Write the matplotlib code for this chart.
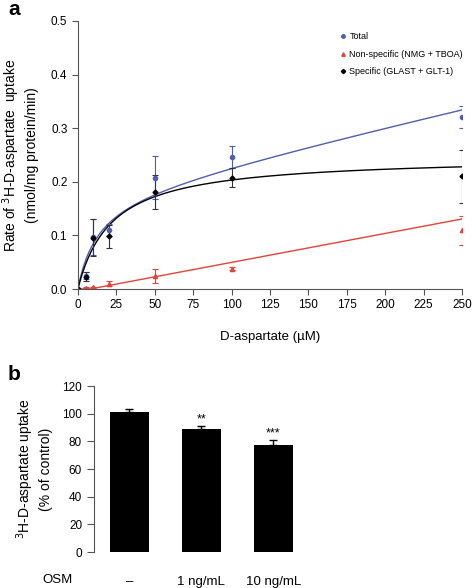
import numpy as np
import matplotlib.pyplot as plt
from matplotlib.lines import Line2D

plt.rcParams['font.family'] = ['Liberation Sans', 'DejaVu Sans']

# --- panel a: uptake kinetics ---
conc = [0, 5, 10, 20, 50, 100, 250]
total = [0, 0.025, 0.097, 0.110, 0.208, 0.246, 0.321]
total_err = [0, 0.006, 0.033, 0.012, 0.040, 0.020, 0.021]
nonspec = [0, 0.002, 0.003, 0.010, 0.024, 0.038, 0.110]
nonspec_err = [0, 0.001, 0.001, 0.004, 0.013, 0.003, 0.027]
specific = [0, 0.023, 0.096, 0.098, 0.181, 0.208, 0.210]
specific_err = [0, 0.008, 0.035, 0.021, 0.031, 0.017, 0.049]

# fitted curves (Michaelis-Menten, + linear part for total)
spec_vmax, spec_km = 0.248, 22.0
tot_vmax, tot_km, tot_slope = 0.180, 13.0, 0.000652
ns_slope, ns_x0 = 0.00054, 8.0

# --- panel b: OSM effect ---
osm_labels = ['\u2013', '1 ng/mL', '10 ng/mL']
uptake_pct = [101.0, 88.9, 77.1]
uptake_err = [2.4, 2.4, 3.6]
signif = ['', '**', '***']

blue = '#4f5fae'
red = '#e5423a'
spine_col = '#555555'

fig = plt.figure(figsize=(4.72, 5.88), dpi=100)
ax = fig.add_axes([0.165, 0.5085, 0.814, 0.4558])

xs = np.linspace(0, 250, 500)
ax.plot(xs, tot_vmax * xs / (tot_km + xs) + tot_slope * xs, color=blue, lw=1)
ax.plot(xs, spec_vmax * xs / (spec_km + xs), color='black', lw=1)
ax.plot(xs, np.maximum(0, ns_slope * (xs - ns_x0)), color=red, lw=1)

ax.errorbar(conc, total, yerr=total_err, fmt='o', color=blue, ms=3,
            capsize=2, elinewidth=0.8, capthick=0.8)
ax.errorbar(conc, nonspec, yerr=nonspec_err, fmt='^', color=red, ms=3,
            capsize=2, elinewidth=0.8, capthick=0.8)
ax.errorbar(conc, specific, yerr=specific_err, fmt='D', color='black', ms=2.5,
            capsize=2, elinewidth=0.8, capthick=0.8, ecolor='#333333')

ax.set_xlim(0, 250)
ax.set_ylim(0, 0.5)
ax.set_xticks(np.arange(0, 251, 25))
ax.set_yticks(np.arange(0, 0.51, 0.1))
ax.yaxis.set_major_formatter(plt.FormatStrFormatter('%.1f'))
for s in ['top', 'right']:
    ax.spines[s].set_visible(False)
for s in ['left', 'bottom']:
    ax.spines[s].set_color(spine_col)
ax.tick_params(colors=spine_col, labelcolor='black', labelsize=8.5, length=4, width=0.8)
ax.set_xlabel('D-aspartate (\u00b5M)', fontsize=9.5, labelpad=14)
ax.set_ylabel('Rate of $^{3}$H-D-aspartate  uptake\n(nmol/mg protein/min)',
              fontsize=10, linespacing=1.3)
ax.yaxis.set_label_coords(-0.1, 0.5)

handles = [Line2D([], [], marker='o', ls='', color=blue, ms=2.5),
           Line2D([], [], marker='^', ls='', color=red, ms=2.5),
           Line2D([], [], marker='D', ls='', color='black', ms=2.2)]
ax.legend(handles, ['Total', 'Non-specific (NMG + TBOA)', 'Specific (GLAST + GLT-1)'],
          loc='upper right', bbox_to_anchor=(1.012, 0.972), frameon=False, fontsize=6.5,
          handlelength=0.6, handletextpad=0.4, labelspacing=0.95, borderaxespad=0)

fig.text(0.017, 1 - 15 / 588, 'a', fontsize=15, fontweight='bold', va='baseline')

# panel b
bx = fig.add_axes([0.199, 0.0612, 0.504, 0.2823])
pos = np.arange(len(uptake_pct))
bx.bar(pos, uptake_pct, width=0.54, color='black')
bx.errorbar(pos, uptake_pct, yerr=[[0] * len(pos), uptake_err], fmt='none',
            ecolor='black', capsize=3, elinewidth=1, capthick=1)
for p, v, e, s in zip(pos, uptake_pct, uptake_err, signif):
    bx.text(p, v + e + 0.5, s, ha='center', va='bottom', fontsize=9)
bx.set_xlim(-0.49, 2.81)
bx.set_ylim(0, 120)
bx.set_yticks(np.arange(0, 121, 20))
bx.set_xticks(pos, osm_labels)
for s in ['top', 'right', 'bottom']:
    bx.spines[s].set_visible(False)
bx.spines['left'].set_color(spine_col)
bx.tick_params(axis='y', colors=spine_col, labelcolor='black', labelsize=8.5, length=5, width=0.8)
bx.tick_params(axis='x', length=0, labelsize=9.5, pad=17)
bx.set_ylabel('$^{3}$H-D-aspartate uptake\n(% of control)', fontsize=10, linespacing=1.3)
bx.yaxis.set_label_coords(-0.17, 0.5)

fig.text(42 / 472, 1 - 580 / 588, 'OSM', fontsize=9.5, va='center')
fig.text(0.017, 1 - 380 / 588, 'b', fontsize=15, fontweight='bold', va='baseline')

fig.savefig('out.png', dpi=100)
